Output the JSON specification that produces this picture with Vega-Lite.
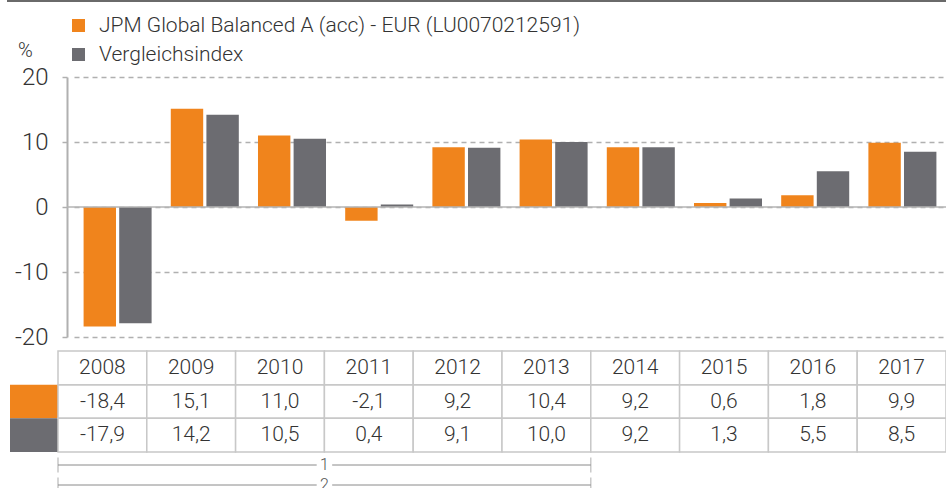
{
  "$schema": "https://vega.github.io/schema/vega-lite/v6.json",
  "width": 879,
  "height": 260,
  "autosize": {"type": "none"},
  "padding": {"left": 67, "top": 77, "right": 0, "bottom": 151},
  "background": "white",
  "config": {
    "view": {"stroke": null},
    "font": "Roboto",
    "locale": {"number": {"decimal": ",", "thousands": ".", "grouping": [3], "currency": ["", " €"], "minus": "-"}}
  },
  "datasets": {
    "perf": [
      {"year": "2008", "series": "JPM Global Balanced A (acc) - EUR (LU0070212591)", "value": -18.4},
      {"year": "2008", "series": "Vergleichsindex", "value": -17.9},
      {"year": "2009", "series": "JPM Global Balanced A (acc) - EUR (LU0070212591)", "value": 15.1},
      {"year": "2009", "series": "Vergleichsindex", "value": 14.2},
      {"year": "2010", "series": "JPM Global Balanced A (acc) - EUR (LU0070212591)", "value": 11.0},
      {"year": "2010", "series": "Vergleichsindex", "value": 10.5},
      {"year": "2011", "series": "JPM Global Balanced A (acc) - EUR (LU0070212591)", "value": -2.1},
      {"year": "2011", "series": "Vergleichsindex", "value": 0.4},
      {"year": "2012", "series": "JPM Global Balanced A (acc) - EUR (LU0070212591)", "value": 9.2},
      {"year": "2012", "series": "Vergleichsindex", "value": 9.1},
      {"year": "2013", "series": "JPM Global Balanced A (acc) - EUR (LU0070212591)", "value": 10.4},
      {"year": "2013", "series": "Vergleichsindex", "value": 10.0},
      {"year": "2014", "series": "JPM Global Balanced A (acc) - EUR (LU0070212591)", "value": 9.2},
      {"year": "2014", "series": "Vergleichsindex", "value": 9.2},
      {"year": "2015", "series": "JPM Global Balanced A (acc) - EUR (LU0070212591)", "value": 0.6},
      {"year": "2015", "series": "Vergleichsindex", "value": 1.3},
      {"year": "2016", "series": "JPM Global Balanced A (acc) - EUR (LU0070212591)", "value": 1.8},
      {"year": "2016", "series": "Vergleichsindex", "value": 5.5},
      {"year": "2017", "series": "JPM Global Balanced A (acc) - EUR (LU0070212591)", "value": 9.9},
      {"year": "2017", "series": "Vergleichsindex", "value": 8.5}
    ],
    "brackets": [
      {"bracket": "1", "start": "2008-01-01", "end": "2014-01-01", "mid": "2011-01-01"},
      {"bracket": "2", "start": "2008-01-01", "end": "2014-01-01", "mid": "2011-01-01"}
    ]
  },
  "resolve": {"scale": {"x": "independent", "y": "independent"}, "axis": {"x": "independent", "y": "independent"}},
  "layer": [
    {
      "data": {"values": [{}]},
      "mark": {"type": "rule", "color": "#6a6a6a", "strokeWidth": 2},
      "encoding": {
        "x": {"datum": 0, "type": "quantitative", "scale": {"domain": [0, 1], "range": [-60, 879], "nice": false}, "axis": null},
        "x2": {"datum": 1},
        "y": {"datum": 0, "type": "quantitative", "scale": {"domain": [0, 1], "range": [-76, -76], "nice": false, "zero": false}, "axis": null}
      }
    },
    {
      "data": {"name": "perf"},
      "mark": {"type": "bar"},
      "encoding": {
        "x": {"field": "year", "type": "nominal", "scale": {"range": [7, 879], "paddingInner": 0.22, "paddingOuter": 0.11}, "axis": null},
        "xOffset": {"field": "series", "type": "nominal", "scale": {"paddingInner": 0.09, "paddingOuter": 0}},
        "y": {
          "field": "value", "type": "quantitative",
          "scale": {"domain": [-20, 20], "nice": false},
          "axis": {
            "values": [-20, -10, 0, 10, 20], "format": "d",
            "title": "%", "titleAngle": 0, "titleX": -42, "titleY": -27, "titleAlign": "center", "titleBaseline": "middle",
            "titleFontSize": 20, "titleFontWeight": 300, "titleColor": "#333333",
            "labelFontSize": 24, "labelFontWeight": 300, "labelColor": "#333333", "labelPadding": 14,
            "tickSize": 5, "tickColor": "#b0b0b0", "tickWidth": 1.5,
            "domainColor": "#b0b0b0", "domainWidth": 2,
            "grid": true, "gridColor": "#b0b0b0", "gridDash": [5, 4], "gridWidth": 1.5
          }
        },
        "color": {
          "field": "series", "type": "nominal",
          "scale": {"domain": ["JPM Global Balanced A (acc) - EUR (LU0070212591)", "Vergleichsindex"], "range": ["#F0841C", "#6C6C71"]},
          "legend": {
            "title": null, "orient": "none", "legendX": 1, "legendY": -62, "direction": "vertical",
            "symbolType": "square", "symbolSize": 169, "symbolStrokeWidth": 0,
            "labelFontSize": 21, "labelFontWeight": 300, "labelColor": "#333333", "labelOffset": 10,
            "rowPadding": 7, "labelLimit": 700
          }
        }
      }
    },
    {
      "data": {"values": [{}]},
      "mark": {"type": "rule", "color": "#b4b4b4", "strokeWidth": 1.5},
      "encoding": {
        "y": {"datum": 0, "type": "quantitative", "scale": {"domain": [-20, 20], "nice": false}, "axis": null}
      }
    },
    {
      "data": {"name": "perf"},
      "transform": [{"filter": "datum.year == '2008'"}],
      "mark": {"type": "rect"},
      "encoding": {
        "x": {"datum": "swatch", "type": "nominal", "scale": {"domain": ["swatch"], "range": [-57, -9], "paddingInner": 0, "paddingOuter": 0}, "axis": null},
        "y": {"field": "series", "type": "nominal", "scale": {"domain": ["Jahr", "JPM Global Balanced A (acc) - EUR (LU0070212591)", "Vergleichsindex"], "range": [274, 375], "paddingInner": 0, "paddingOuter": 0}, "axis": null},
        "color": {"field": "series", "type": "nominal"}
      }
    },
    {
      "data": {"name": "perf"},
      "mark": {"type": "rect", "fill": "white", "stroke": "#c8c8c8", "strokeWidth": 1.5},
      "encoding": {
        "x": {"field": "year", "type": "nominal", "scale": {"range": [-9, 879], "paddingInner": 0, "paddingOuter": 0}, "axis": null},
        "y": {"field": "series", "type": "nominal", "scale": {"domain": ["Jahr", "JPM Global Balanced A (acc) - EUR (LU0070212591)", "Vergleichsindex"], "range": [274, 375], "paddingInner": 0, "paddingOuter": 0}, "axis": null}
      }
    },
    {
      "data": {"name": "perf"},
      "transform": [{"filter": "datum.series == 'Vergleichsindex'"}],
      "mark": {"type": "rect", "fill": "white", "stroke": "#c8c8c8", "strokeWidth": 1.5},
      "encoding": {
        "x": {"field": "year", "type": "nominal", "scale": {"range": [-9, 879], "paddingInner": 0, "paddingOuter": 0}, "axis": null},
        "y": {"datum": "Jahr", "type": "nominal", "scale": {"domain": ["Jahr", "JPM Global Balanced A (acc) - EUR (LU0070212591)", "Vergleichsindex"], "range": [274, 375], "paddingInner": 0, "paddingOuter": 0}, "axis": null}
      }
    },
    {
      "data": {"name": "perf"},
      "transform": [{"filter": "datum.series == 'Vergleichsindex'"}],
      "mark": {"type": "text", "fontSize": 21, "fontWeight": 300, "color": "#333333"},
      "encoding": {
        "x": {"field": "year", "type": "nominal", "scale": {"range": [-9, 879], "paddingInner": 0, "paddingOuter": 0}, "axis": null},
        "y": {"datum": "Jahr", "type": "nominal", "scale": {"domain": ["Jahr", "JPM Global Balanced A (acc) - EUR (LU0070212591)", "Vergleichsindex"], "range": [274, 375], "paddingInner": 0, "paddingOuter": 0}, "axis": null},
        "text": {"field": "year", "type": "nominal"}
      }
    },
    {
      "data": {"name": "perf"},
      "mark": {"type": "text", "fontSize": 21, "fontWeight": 300, "color": "#333333"},
      "encoding": {
        "x": {"field": "year", "type": "nominal", "scale": {"range": [-9, 879], "paddingInner": 0, "paddingOuter": 0}, "axis": null},
        "y": {"field": "series", "type": "nominal", "scale": {"domain": ["Jahr", "JPM Global Balanced A (acc) - EUR (LU0070212591)", "Vergleichsindex"], "range": [274, 375], "paddingInner": 0, "paddingOuter": 0}, "axis": null},
        "text": {"field": "value", "type": "quantitative", "format": ".1f"}
      }
    },
    {
      "data": {"name": "brackets"},
      "mark": {"type": "rule", "color": "#8a8a8a", "strokeWidth": 1},
      "encoding": {
        "x": {"field": "start", "type": "temporal", "scale": {"type": "utc", "domain": [{"year": 2008, "utc": true}, {"year": 2018, "utc": true}], "range": [-9, 879], "nice": false}, "axis": null},
        "x2": {"field": "end"},
        "y": {"field": "bracket", "type": "nominal", "scale": {"domain": ["1", "2"], "range": [378, 418], "paddingInner": 0, "paddingOuter": 0}, "axis": null}
      }
    },
    {
      "data": {"name": "brackets"},
      "mark": {"type": "tick", "orient": "vertical", "color": "#8a8a8a", "thickness": 1, "size": 15},
      "encoding": {
        "x": {"field": "start", "type": "temporal", "scale": {"type": "utc", "domain": [{"year": 2008, "utc": true}, {"year": 2018, "utc": true}], "range": [-9, 879], "nice": false}, "axis": null},
        "y": {"field": "bracket", "type": "nominal", "scale": {"domain": ["1", "2"], "range": [378, 418], "paddingInner": 0, "paddingOuter": 0}, "axis": null}
      }
    },
    {
      "data": {"name": "brackets"},
      "mark": {"type": "tick", "orient": "vertical", "color": "#8a8a8a", "thickness": 1, "size": 15},
      "encoding": {
        "x": {"field": "end", "type": "temporal", "scale": {"type": "utc", "domain": [{"year": 2008, "utc": true}, {"year": 2018, "utc": true}], "range": [-9, 879], "nice": false}, "axis": null},
        "y": {"field": "bracket", "type": "nominal", "scale": {"domain": ["1", "2"], "range": [378, 418], "paddingInner": 0, "paddingOuter": 0}, "axis": null}
      }
    },
    {
      "data": {"name": "brackets"},
      "mark": {"type": "point", "shape": "square", "filled": true, "color": "white", "opacity": 1, "size": 240},
      "encoding": {
        "x": {"field": "mid", "type": "temporal", "scale": {"type": "utc", "domain": [{"year": 2008, "utc": true}, {"year": 2018, "utc": true}], "range": [-9, 879], "nice": false}, "axis": null},
        "y": {"field": "bracket", "type": "nominal", "scale": {"domain": ["1", "2"], "range": [378, 418], "paddingInner": 0, "paddingOuter": 0}, "axis": null}
      }
    },
    {
      "data": {"name": "brackets"},
      "mark": {"type": "text", "fontSize": 16, "fontWeight": 300, "color": "#555555"},
      "encoding": {
        "x": {"field": "mid", "type": "temporal", "scale": {"type": "utc", "domain": [{"year": 2008, "utc": true}, {"year": 2018, "utc": true}], "range": [-9, 879], "nice": false}, "axis": null},
        "y": {"field": "bracket", "type": "nominal", "scale": {"domain": ["1", "2"], "range": [378, 418], "paddingInner": 0, "paddingOuter": 0}, "axis": null},
        "text": {"field": "bracket", "type": "nominal"}
      }
    }
  ]
}
